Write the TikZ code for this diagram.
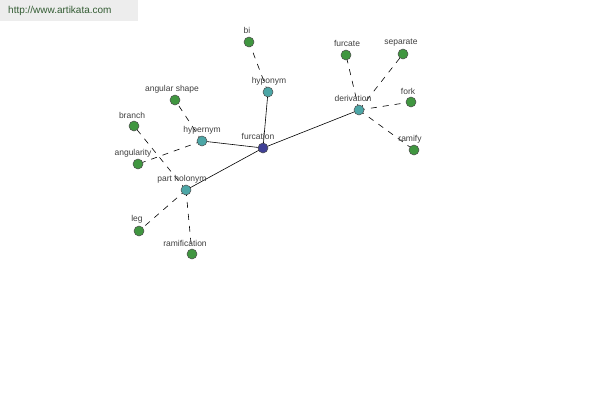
\documentclass[tikz,border=0pt]{standalone}
\usepackage{fontspec}
\setmainfont{Liberation Sans}
\begin{document}
\begin{tikzpicture}[x=1pt,y=-1pt,
  vtx/.style={circle,draw=black!70,line width=0.5pt,minimum size=10pt,inner sep=0pt},
  leaf/.style={vtx,fill=green!45!black!75!white},
  mid/.style={vtx,fill=teal!70!white},
  root/.style={vtx,fill=blue!45!black!75!white},
  lbl/.style={font=\fontsize{8.5}{9}\selectfont,text=black!75,inner sep=0pt},
  rel/.style={line width=0.6pt,black},
  sub/.style={line width=0.6pt,black,dash pattern=on 6pt off 6pt},
]
\useasboundingbox (0,0) rectangle (600,400);
\fill[white] (0,0) rectangle (600,400);
\fill[black!7] (0,0) rectangle (138,21);
\node[anchor=west,font=\fontsize{10}{11}\selectfont,text=green!20!black!80,inner sep=0pt] (wm) at (8,11) {http://www.artikata.com};

\coordinate (p-furcation) at (263,148);
\coordinate (p-hyponym) at (268,92);
\coordinate (p-bi) at (249,42);
\coordinate (p-hypernym) at (202,141);
\coordinate (p-angshape) at (175,100);
\coordinate (p-branch) at (134,126);
\coordinate (p-angularity) at (138,164);
\coordinate (p-partholonym) at (186,190);
\coordinate (p-leg) at (139,231);
\coordinate (p-ramification) at (192,254);
\coordinate (p-derivation) at (359,110);
\coordinate (p-furcate) at (346,55);
\coordinate (p-separate) at (403,54);
\coordinate (p-fork) at (411,102);
\coordinate (p-ramify) at (414,150);

% edges
\draw[rel] (p-furcation) -- (p-hyponym);
\draw[rel] (p-furcation) -- (p-hypernym);
\draw[rel] (p-furcation) -- (p-partholonym);
\draw[rel] (p-furcation) -- (p-derivation);
\draw[sub] (p-hyponym) -- (p-bi);
\draw[sub] (p-hypernym) -- (p-angshape);
\draw[sub] (p-hypernym) -- (p-angularity);
\draw[sub] (p-partholonym) -- (p-branch);
\draw[sub] (p-partholonym) -- (p-leg);
\draw[sub] (p-partholonym) -- (p-ramification);
\draw[sub] (p-derivation) -- (p-furcate);
\draw[sub] (p-derivation) -- (p-separate);
\draw[sub] (p-derivation) -- (p-fork);
\draw[sub] (p-derivation) -- (p-ramify);

% nodes
\node[root] (furcation) at (p-furcation) {};
\node[mid] (hyponym) at (p-hyponym) {};
\node[leaf] (bi) at (p-bi) {};
\node[mid] (hypernym) at (p-hypernym) {};
\node[leaf] (angshape) at (p-angshape) {};
\node[leaf] (branch) at (p-branch) {};
\node[leaf] (angularity) at (p-angularity) {};
\node[mid] (partholonym) at (p-partholonym) {};
\node[leaf] (leg) at (p-leg) {};
\node[leaf] (ramification) at (p-ramification) {};
\node[mid] (derivation) at (p-derivation) {};
\node[leaf] (furcate) at (p-furcate) {};
\node[leaf] (separate) at (p-separate) {};
\node[leaf] (fork) at (p-fork) {};
\node[leaf] (ramify) at (p-ramify) {};

% labels
\node[lbl] (l-furcation) at (258,136) {furcation};
\node[lbl] (l-hyponym) at (269,81) {hyponym};
\node[lbl] (l-bi) at (247,30) {bi};
\node[lbl] (l-hypernym) at (202,130) {hypernym};
\node[lbl] (l-angshape) at (172,89) {angular shape};
\node[lbl] (l-branch) at (132,115) {branch};
\node[lbl] (l-angularity) at (133,153) {angularity};
\node[lbl] (l-partholonym) at (182,179) {part holonym};
\node[lbl] (l-leg) at (137,219) {leg};
\node[lbl] (l-ramification) at (185,243) {ramification};
\node[lbl] (l-derivation) at (353,98) {derivation};
\node[lbl] (l-furcate) at (347,43) {furcate};
\node[lbl] (l-separate) at (401,43) {separate};
\node[lbl] (l-fork) at (408,91) {fork};
\node[lbl] (l-ramify) at (410,139) {ramify};
\end{tikzpicture}
\end{document}
